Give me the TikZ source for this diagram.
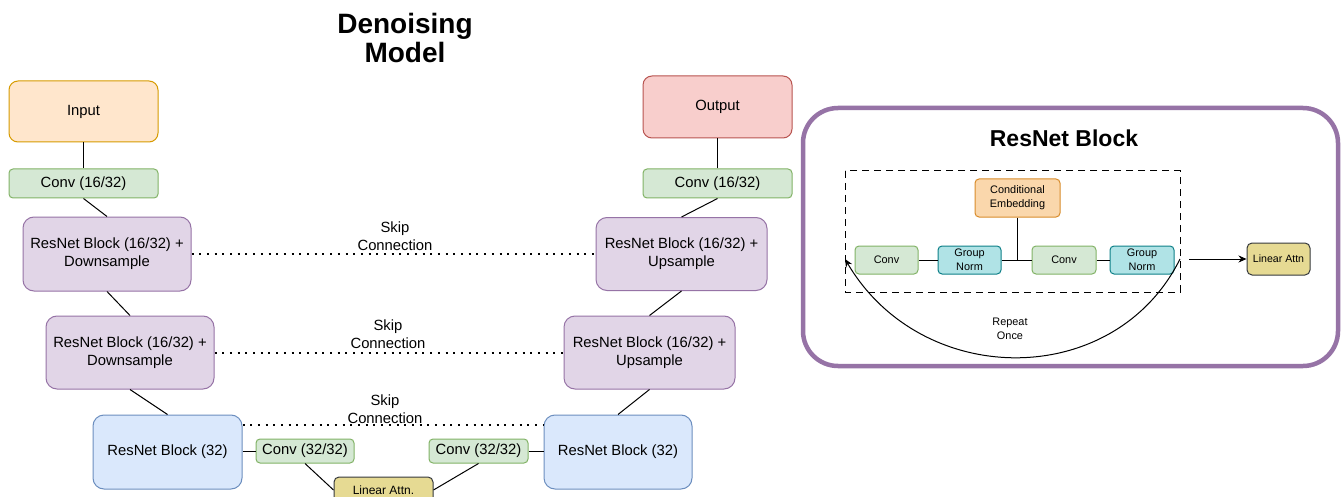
\documentclass[tikz,border=0pt]{standalone}
\usepackage{fontspec}
\setmainfont{Liberation Sans}
\usetikzlibrary{arrows.meta}
\definecolor{inpF}{HTML}{FFE6CC}\definecolor{inpD}{HTML}{D79B00}
\definecolor{outF}{HTML}{F8CECC}\definecolor{outD}{HTML}{B85450}
\definecolor{cnvF}{HTML}{D5E8D4}\definecolor{cnvD}{HTML}{82B366}
\definecolor{purF}{HTML}{E1D5E7}\definecolor{purD}{HTML}{9673A6}
\definecolor{bluF}{HTML}{DAE8FC}\definecolor{bluD}{HTML}{6C8EBF}
\definecolor{attF}{HTML}{E6DA93}\definecolor{attD}{HTML}{36393D}
\definecolor{gnF}{HTML}{B0E3E6}\definecolor{gnD}{HTML}{0E8088}
\definecolor{ceF}{HTML}{FAD7AC}\definecolor{ceD}{HTML}{D98C2B}
\tikzset{
  box/.style={draw, line width=1pt, inner sep=0pt, align=center, font=\fontsize{14.8}{18}\selectfont},
  smallbox/.style={draw, line width=1pt, inner sep=0pt, align=center, rounded corners=4pt, font=\fontsize{10.9}{14}\selectfont},
  link/.style={line width=1pt, black},
  skip/.style={line width=2pt, dash pattern=on 2pt off 5.7pt},
  skiplabel/.style={align=center, font=\fontsize{14.8}{18}\selectfont},
}
\begin{document}
\begin{tikzpicture}[x=1pt,y=-1pt]
\useasboundingbox (0,0) rectangle (1343,497);
\clip (0,0) rectangle (1343,497);
\fill[white] (0,0) rectangle (1343,497);

% title
\node[align=center, font=\fontsize{28}{29}\bfseries\selectfont] (title) at (405,38) {Denoising\\Model};

% left column
\node[box, fill=inpF, draw=inpD, rounded corners=9pt, minimum width=149pt, minimum height=61pt] (inp) at (83.5,111.5) {Input};
\node[box, fill=cnvF, draw=cnvD, rounded corners=4pt, minimum width=149pt, minimum height=29pt] (cv1) at (83.5,183.5) {Conv (16/32)};
\node[box, fill=purF, draw=purD, rounded corners=11pt, minimum width=168pt, minimum height=74pt] (rd1) at (107,254) {ResNet Block (16/32) +\\Downsample};
\node[box, fill=purF, draw=purD, rounded corners=11pt, minimum width=168pt, minimum height=73pt] (rd2) at (130,352.5) {ResNet Block (16/32) +\\Downsample};
\node[box, fill=bluF, draw=bluD, rounded corners=11pt, minimum width=149pt, minimum height=74pt] (rb1) at (167.5,452) {ResNet Block (32)};
\node[box, fill=cnvF, draw=cnvD, rounded corners=4pt, minimum width=98pt, minimum height=24pt] (cb1) at (305,451) {Conv (32/32)};
\node[box, fill=attF, draw=attD, rounded corners=5pt, minimum width=99pt, minimum height=26pt, font=\fontsize{12}{14}\selectfont] (att) at (383.5,490) {Linear Attn.};

% right column
\node[box, fill=cnvF, draw=cnvD, rounded corners=4pt, minimum width=99pt, minimum height=24pt] (cb2) at (478.5,451) {Conv (32/32)};
\node[box, fill=bluF, draw=bluD, rounded corners=11pt, minimum width=148pt, minimum height=74pt] (rb2) at (618,452) {ResNet Block (32)};
\node[box, fill=purF, draw=purD, rounded corners=11pt, minimum width=171pt, minimum height=73pt] (ru2) at (649.5,352.5) {ResNet Block (16/32) +\\Upsample};
\node[box, fill=purF, draw=purD, rounded corners=11pt, minimum width=171pt, minimum height=73pt] (ru1) at (681.5,254) {ResNet Block (16/32) +\\Upsample};
\node[box, fill=cnvF, draw=cnvD, rounded corners=4pt, minimum width=149pt, minimum height=29pt] (cv2) at (717.5,183.5) {Conv (16/32)};
\node[box, fill=outF, draw=outD, rounded corners=9pt, minimum width=149pt, minimum height=62pt] (out) at (717.5,107) {Output};

% connectors
\draw[link] (inp.south) -- (cv1.north);
\draw[link] (cv1.south) -- (rd1.north);
\draw[link] (rd1.south) -- (rd2.north);
\draw[link] (rd2.south) -- (rb1.north);
\draw[link] (rb1.east |- cb1.west) -- (cb1.west);
\draw[link] (cb1.south) -- (att.west);
\draw[link] (cb2.south) -- (att.east);
\draw[link] (cb2.east) -- (rb2.west |- cb2.east);
\draw[link] (rb2.north) -- (ru2.south);
\draw[link] (ru2.north) -- (ru1.south);
\draw[link] (ru1.north) -- (cv2.south);
\draw[link] (cv2.north) -- (out.south);

% skip connections
\draw[skip] (rd1.east) -- (rd1.east -| ru1.west);
\draw[skip] (rd2.east) -- (rd2.east -| ru2.west);
\draw[skip] ([yshift=-10pt]rb1.north east) -- ([yshift=-10pt]rb2.north west);
\node[skiplabel] (sk1) at (395,236) {Skip\\Connection};
\node[skiplabel] (sk2) at (388,334.5) {Skip\\Connection};
\node[skiplabel] (sk3) at (385,409) {Skip\\Connection};

% ResNet block panel
\draw[line width=4.5pt, draw=purD, fill=white, rounded corners=35pt] (803,108) rectangle (1338,366);
\node[font=\fontsize{23}{26}\bfseries\selectfont] (rtitle) at (1064,138) {ResNet Block};
\draw[line width=1pt, dash pattern=on 7pt off 5pt] (845,171) rectangle (1180,292);

\node[smallbox, fill=ceF, draw=ceD, minimum width=85pt, minimum height=38pt] (ce) at (1017.5,198) {Conditional\\Embedding};
\node[smallbox, fill=cnvF, draw=cnvD, minimum width=63pt, minimum height=28pt] (c1) at (886.5,260) {Conv};
\node[smallbox, fill=gnF, draw=gnD, minimum width=63pt, minimum height=28pt] (g1) at (969.5,260) {Group\\Norm};
\node[smallbox, fill=cnvF, draw=cnvD, minimum width=64pt, minimum height=28pt] (c2) at (1064,260) {Conv};
\node[smallbox, fill=gnF, draw=gnD, minimum width=64pt, minimum height=28pt] (g2) at (1142,260) {Group\\Norm};
\node[smallbox, fill=attF, draw=attD, rounded corners=5pt, minimum width=63pt, minimum height=32pt, font=\fontsize{10.6}{13}\selectfont] (la) at (1278.5,259) {Linear Attn};

\draw[link] (c1.east) -- (g1.west);
\draw[link] (g1.east) -- (c2.west);
\draw[link] (c2.east) -- (g2.west);
\draw[link] (ce.south) -- (ce.south |- g1.east);

\coordinate (arrS) at (1189,259);
\draw[link, -{Stealth[length=8pt,width=7pt]}] (arrS) -- (la.west);

\coordinate (cS) at (1180,259);
\coordinate (cE) at (845,259);
\draw[link, -{Stealth[length=8pt,width=7pt]}] (cS) .. controls (1115,390) and (922,390) .. (cE);
\node[align=center, font=\fontsize{10.9}{14}\selectfont] (rep) at (1010,329) {Repeat\\Once};
\end{tikzpicture}
\end{document}
